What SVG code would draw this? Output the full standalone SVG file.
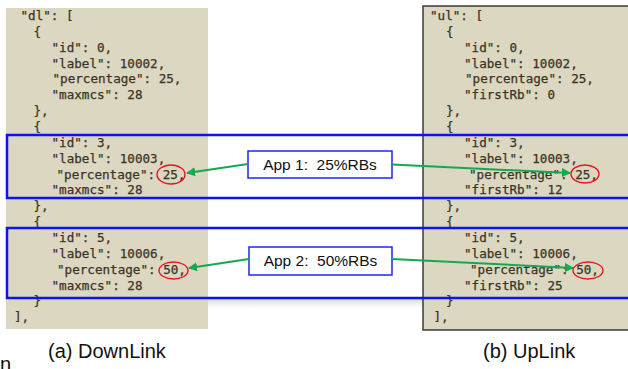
<svg xmlns="http://www.w3.org/2000/svg" width="628" height="369" viewBox="0 0 628 369">
<style>
.code{font-family:"DejaVu Sans Mono","Liberation Mono",monospace;font-size:12.6px;fill:#3a3324;stroke:#3a3324;stroke-width:0.25;}
.panel{fill:#dcd7c1;}
.blue{fill:none;stroke:#0a14f0;stroke-width:2.5;}
.oval{fill:none;stroke:#e8141e;stroke-width:1.4;}
.lbl{fill:#fff;stroke:#1c28f0;stroke-width:1.5;}
.lbltxt{font-family:"Liberation Sans",Arial,sans-serif;font-size:15.5px;fill:#111;}
.cap{font-family:"Liberation Sans",Arial,sans-serif;font-size:20px;fill:#111;}
.arr{stroke:#14a850;stroke-width:2;fill:none;marker-end:url(#ah);}
</style>
<defs>
<marker id="ah" viewBox="0 0 10 10" refX="9" refY="5" markerWidth="4.5" markerHeight="4.5" orient="auto" markerUnits="strokeWidth">
<path d="M0,0 L10,5 L0,10 z" fill="#14a850"/>
</marker>
<linearGradient id="sh" x1="0" y1="0" x2="0" y2="1">
<stop offset="0" stop-color="#c8c8c8" stop-opacity="0.8"/>
<stop offset="1" stop-color="#ffffff" stop-opacity="0"/>
</linearGradient>
</defs>
<rect width="628" height="369" fill="#fff"/>
<rect x="176" y="298" width="250" height="14" fill="url(#sh)"/>
<g id="downlink">
<rect class="panel" x="6" y="8" width="202" height="321"/>
<text class="code">
<tspan x="20.5" y="20">"dl": [</tspan>
<tspan x="33.5" y="35.9">{</tspan>
<tspan x="51.5" y="51.7">"id": 0,</tspan>
<tspan x="51.5" y="67.6">"label": 10002,</tspan>
<tspan x="52.5" y="83.4">"percentage": 25,</tspan>
<tspan x="51.5" y="99.3">"maxmcs": 28</tspan>
<tspan x="33.5" y="115.1">},</tspan>
<tspan x="33.5" y="131">{</tspan>
<tspan x="51.5" y="146.8">"id": 3,</tspan>
<tspan x="51.5" y="162.7">"label": 10003,</tspan>
<tspan x="56.5" y="178.5">"percentage": 25,</tspan>
<tspan x="51.5" y="194.4">"maxmcs": 28</tspan>
<tspan x="33.5" y="210.2">},</tspan>
<tspan x="33.5" y="226.1">{</tspan>
<tspan x="51.5" y="241.9">"id": 5,</tspan>
<tspan x="51.5" y="257.8">"label": 10006,</tspan>
<tspan x="57" y="273.6">"percentage": 50,</tspan>
<tspan x="51.5" y="289.5">"maxmcs": 28</tspan>
<tspan x="33.5" y="305.3">}</tspan>
<tspan x="14" y="321.2">],</tspan>
</text>
<ellipse class="oval" cx="171" cy="174.5" rx="14" ry="9.5"/>
<ellipse class="oval" cx="173.5" cy="270.5" rx="14.5" ry="8.5"/>
</g>
<g id="uplink">
<rect class="panel" x="423" y="6" width="210" height="324" stroke="#3a3a3a" stroke-width="1.5"/>
<text class="code">
<tspan x="430" y="20">"ul": [</tspan>
<tspan x="446" y="35.9">{</tspan>
<tspan x="464" y="51.7">"id": 0,</tspan>
<tspan x="464" y="67.6">"label": 10002,</tspan>
<tspan x="465" y="83.4">"percentage": 25,</tspan>
<tspan x="464" y="99.3">"firstRb": 0</tspan>
<tspan x="446" y="115.1">},</tspan>
<tspan x="446" y="131">{</tspan>
<tspan x="464" y="146.8">"id": 3,</tspan>
<tspan x="464" y="162.7">"label": 10003,</tspan>
<tspan x="469" y="178.5">"percentage": 25,</tspan>
<tspan x="464" y="194.4">"firstRb": 12</tspan>
<tspan x="446" y="210.2">},</tspan>
<tspan x="446" y="226.1">{</tspan>
<tspan x="464" y="241.9">"id": 5,</tspan>
<tspan x="464" y="257.8">"label": 10006,</tspan>
<tspan x="470" y="273.6">"percentage": 50,</tspan>
<tspan x="464" y="289.5">"firstRb": 25</tspan>
<tspan x="446" y="305.3">}</tspan>
<tspan x="433.5" y="321.2">],</tspan>
</text>
<ellipse class="oval" cx="585" cy="174" rx="14" ry="9"/>
<ellipse class="oval" cx="588" cy="270.5" rx="15" ry="8.5"/>
</g>
<g id="app1-region"><rect class="blue" x="7" y="135" width="640" height="63"/></g>
<g id="app2-region"><rect class="blue" x="7" y="228" width="640" height="70"/></g>
<g id="app1">
<rect class="lbl" x="248" y="151" width="144" height="27"/>
<text class="lbltxt" x="320" y="170" text-anchor="middle" xml:space="preserve">App 1:  25%RBs</text>
</g>
<g id="app2">
<rect class="lbl" x="249" y="247" width="143" height="28"/>
<text class="lbltxt" x="320.5" y="266" text-anchor="middle" xml:space="preserve">App 2:  50%RBs</text>
</g>
<g id="connectors">
<line class="arr" x1="248" y1="164" x2="187" y2="173"/>
<line class="arr" x1="392" y1="164.5" x2="570" y2="173"/>
<line class="arr" x1="249" y1="259" x2="189" y2="268"/>
<line class="arr" x1="392" y1="259" x2="573" y2="268"/>
</g>
<g id="captions">
<text class="cap" x="48" y="358">(a) DownLink</text>
<text class="cap" x="483" y="358">(b) UpLink</text>
<text x="0" y="371" style="font-family:'Liberation Sans',Arial,sans-serif;font-size:20px;fill:#111">n</text>
</g>
</svg>
